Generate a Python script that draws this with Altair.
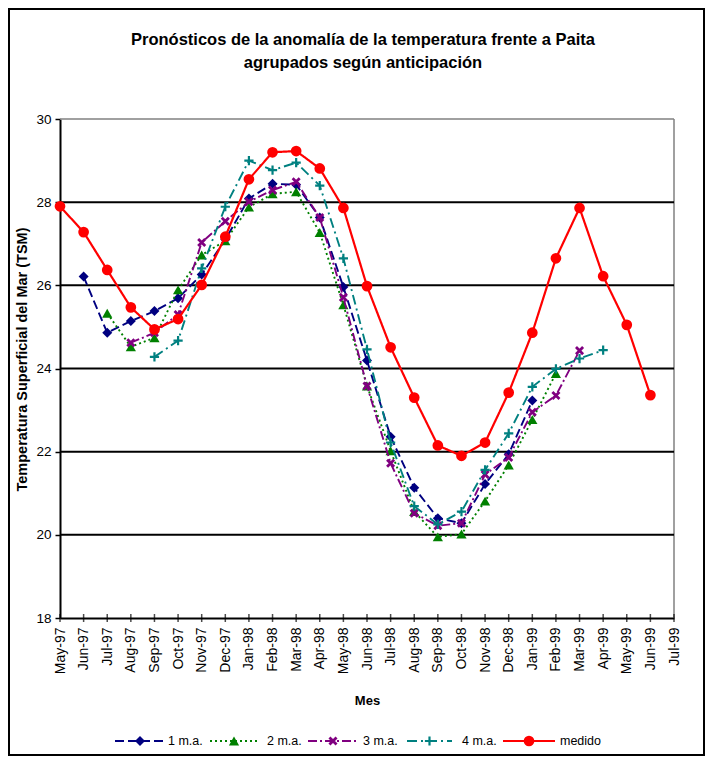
import altair as alt
import pandas as pd

months = ["May-97", "Jun-97", "Jul-97", "Aug-97", "Sep-97", "Oct-97", "Nov-97", "Dec-97",
          "Jan-98", "Feb-98", "Mar-98", "Apr-98", "May-98", "Jun-98", "Jul-98", "Aug-98",
          "Sep-98", "Oct-98", "Nov-98", "Dec-98", "Jan-99", "Feb-99", "Mar-99", "Apr-99",
          "May-99", "Jun-99", "Jul-99"]

# forecasts (first month, values)
ma1_start = "Jun-97"
ma1 = [26.21, 24.86, 25.14, 25.38, 25.69, 26.26, 27.10, 28.09, 28.44, 28.42, 27.63, 25.96,
       24.19, 22.36, 21.13, 20.40, 20.28, 21.22, 21.94, 23.23]
ma2_start = "Jul-97"
ma2 = [25.33, 24.52, 24.74, 25.89, 26.73, 27.07, 27.88, 28.20, 28.25, 27.27, 25.53, 23.58,
       22.02, 20.56, 19.95, 20.02, 20.81, 21.68, 22.77, 23.88]
ma3_start = "Aug-97"
ma3 = [24.62, 24.86, 25.30, 27.03, 27.54, 28.01, 28.29, 28.49, 27.63, 25.71, 23.58, 21.72,
       20.52, 20.22, 20.28, 21.45, 21.86, 22.95, 23.35, 24.43]
ma4_start = "Sep-97"
ma4 = [24.28, 24.67, 26.41, 27.89, 29.00, 28.77, 28.95, 28.40, 26.65, 24.46, 22.22, 20.69,
       20.25, 20.56, 21.56, 22.44, 23.56, 23.99, 24.24, 24.44]
med_start = "May-97"
medido = [27.90, 27.28, 26.37, 25.47, 24.94, 25.19, 26.01, 27.17, 28.55, 29.20, 29.23, 28.81,
          27.86, 25.98, 24.51, 23.30, 22.15, 21.90, 22.22, 23.42, 24.86, 26.65, 27.86, 26.22,
          25.05, 23.36]

series_names = ["1 m.a.", "2 m.a.", "3 m.a.", "4 m.a.", "medido"]
y_ticks = [18, 20, 22, 24, 26, 28, 30]
grid_values = [20, 22, 24, 26, 28]

title1 = "Pronósticos de la anomalía de la temperatura frente a Paita"
title2 = "agrupados según anticipación"
y_title = "Temperatura Superficial del Mar (TSM)"
x_title = "Mes"

FONT = "Liberation Sans"
W, H = 614, 499


def frame(start, vals):
    i0 = months.index(start)
    return pd.DataFrame({"month": months[i0:i0 + len(vals)], "value": vals})


styles = [
    dict(color="#000080", dash=[9, 4], shape="diamond", filled=True, size=100, sw=0),
    dict(color="#008000", dash=[2, 3], shape="triangle-up", filled=True, size=105, sw=0),
    dict(color="#800080", dash=[9, 3, 2, 3], shape="M-1,-1L1,1M-1,1L1,-1", filled=False, size=50, sw=2.8),
    dict(color="#008080", dash=[10, 4, 2, 4], shape="M-1,0L1,0M0,-1L0,1", filled=False, size=85, sw=2.2),
    dict(color="#FF0000", dash=[1, 0], shape="circle", filled=True, size=115, sw=0),
]
datasets = [frame(ma1_start, ma1), frame(ma2_start, ma2), frame(ma3_start, ma3),
            frame(ma4_start, ma4), frame(med_start, medido)]

x_enc = alt.X("month:O", sort=months,
              scale=alt.Scale(domain=months, type="point", padding=0),
              axis=alt.Axis(title=x_title, labelAngle=270, labelAlign="right",
                            labelBaseline="middle", labelFontSize=14, labelFont=FONT,
                            labelColor="black", labelPadding=9, ticks=False,
                            domainColor="black", domainWidth=2, labelOverlap=False,
                            titleFont=FONT, titleFontSize=13, titleFontWeight="bold",
                            titleColor="black", titleX=307, titleY=82,
                            titleBaseline="middle", titleAlign="center"))
y_enc = alt.Y("value:Q", scale=alt.Scale(domain=[18, 30], nice=False, zero=False),
              axis=alt.Axis(title=y_title, values=y_ticks, grid=False, tickSize=5,
                            tickColor="black", tickWidth=1.5, labelFontSize=13.5,
                            labelFont=FONT, labelColor="black", labelPadding=4,
                            domainColor="black", domainWidth=2,
                            titleFont=FONT, titleFontSize=14.5, titleFontWeight="bold",
                            titleColor="black", titleAngle=270, titleX=-38, titleY=240,
                            titleBaseline="middle", titleAlign="center"))

layers = []

# plot-area border (grey): top at 30 and right at last month
layers.append(alt.Chart(pd.DataFrame({"value": [y_ticks[-1]]})).mark_rule(
    color="#808080", strokeWidth=1.5).encode(y=y_enc))
layers.append(alt.Chart(pd.DataFrame({"month": [months[-1]]})).mark_rule(
    color="#808080", strokeWidth=1.5).encode(x=x_enc))

# horizontal gridlines
grid = alt.Chart(pd.DataFrame({"value": grid_values})).mark_rule(color="black", strokeWidth=2).encode(
    y=y_enc)
layers.append(grid)

# crossing ticks on x axis
ticks = alt.Chart(pd.DataFrame({"month": months, "value": [18] * len(months)})).mark_tick(
    color="black", orient="vertical", size=8, thickness=1.5).encode(x=x_enc, y=y_enc)
layers.append(ticks)

for df, st in zip(datasets, styles):
    base = alt.Chart(df)
    line = base.mark_line(color=st["color"], strokeDash=st["dash"],
                          strokeWidth=2.2 if st["color"] == "#FF0000" else 1.9).encode(x=x_enc, y=y_enc)
    if st["filled"]:
        pts = base.mark_point(shape=st["shape"], filled=True, color=st["color"], size=st["size"],
                              opacity=1).encode(x=x_enc, y=y_enc)
    else:
        pts = base.mark_point(shape=st["shape"], filled=False, color=st["color"], size=st["size"],
                              strokeWidth=st["sw"], opacity=1).encode(x=x_enc, y=y_enc)
    layers += [line, pts]

# title lines
for txt, yy in [(title1, -79), (title2, -56)]:
    layers.append(alt.Chart(pd.DataFrame({"t": [txt]})).mark_text(
        font=FONT, fontSize=16.5, fontWeight="bold", color="black", align="center",
        baseline="middle").encode(text="t:N", x=alt.value(303), y=alt.value(yy)))

# legend
leg_line_x = [(55, 105), (150, 198), (248, 298), (347, 392), (443, 495)]
leg_text_x = [108, 207, 303, 402, 500]
LEG_Y = 622
for name, st, (a, b), tx in zip(series_names, styles, leg_line_x, leg_text_x):
    d = pd.DataFrame({"name": [name]})
    layers.append(alt.Chart(d).mark_rule(color=st["color"], strokeDash=st["dash"], strokeWidth=2).encode(
        x=alt.value(a), x2=alt.value(b), y=alt.value(LEG_Y)))
    kw = dict(shape=st["shape"], filled=st["filled"], color=st["color"], size=st["size"], opacity=1)
    if not st["filled"]:
        kw["strokeWidth"] = st["sw"]
    layers.append(alt.Chart(d).mark_point(**kw).encode(x=alt.value((a + b) / 2), y=alt.value(LEG_Y)))
    layers.append(alt.Chart(d).mark_text(font=FONT, fontSize=12.5, color="black", align="left",
                                         baseline="middle").encode(
        text="name:N", x=alt.value(tx), y=alt.value(LEG_Y)))

# outer frame
layers.append(alt.Chart(pd.DataFrame({"f": [0]})).mark_rect(
    fill=None, stroke="black", strokeWidth=2).encode(
    x=alt.value(-51), x2=alt.value(644), y=alt.value(-110), y2=alt.value(636)))

chart = alt.layer(*layers).properties(
    width=W, height=H,
    autosize=alt.AutoSizeParams(type="none"),
    padding={"left": 52, "top": 111, "right": 31, "bottom": 138},
    background="white",
).configure_view(stroke=None)

chart.save("out.html", embed_options={"renderer": "svg", "actions": False})
